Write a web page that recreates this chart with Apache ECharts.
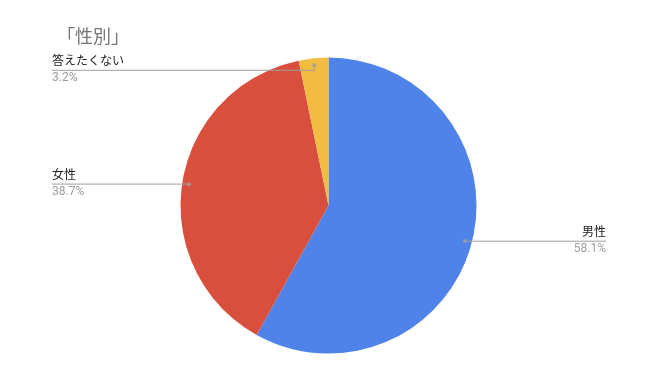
<!DOCTYPE html>
<html>
<head>
<meta charset="utf-8">
<script src="https://cdn.jsdelivr.net/npm/echarts@6/dist/echarts.min.js"></script>
<style>
  html, body { margin: 0; padding: 0; background: #ffffff; }
  #chart { width: 650px; height: 387px; }
</style>
</head>
<body>
<div id="chart"></div>
<script>
const titleText = '「性別」';
const categories = ['男性', '女性', '答えたくない'];
const counts = [18, 12, 1];
const colors = ['#4f83ea', '#d94f3d', '#f2bc42'];
const labelEdge = [44, 52, 52];
const lineLen = [1, 1, -5];

const FONT = 'Roboto, "Noto Sans CJK JP", sans-serif';
const CENTER = [328.5, 205.6];
const R = 148;
const DOT_R = 141;
const LABEL_W = 80;

const total = counts.reduce((a, b) => a + b, 0);
const dotData = [];
let acc = 0;
for (let i = 0; i < counts.length; i++) {
  dotData.push([DOT_R, acc + counts[i] / 2]);
  acc += counts[i];
}

const chart = echarts.init(document.getElementById('chart'), null, { renderer: 'canvas' });
chart.setOption({
  backgroundColor: '#ffffff',
  animation: false,
  title: {
    text: titleText,
    left: 52,
    top: 22,
    textStyle: { fontFamily: '"Noto Sans CJK JP", sans-serif', fontSize: 18, fontWeight: 'normal', color: '#757575' }
  },
  polar: { center: CENTER, radius: R },
  angleAxis: { type: 'value', min: 0, max: total, startAngle: 90, clockwise: true, show: false },
  radiusAxis: { type: 'value', min: 0, max: R, show: false },
  series: [
    {
      type: 'pie',
      center: CENTER,
      radius: R,
      startAngle: 90,
      clockwise: true,
      silent: true,
      label: { show: false },
      labelLine: { show: false },
      data: categories.map((c, i) => ({ name: c, value: counts[i], itemStyle: { color: colors[i] } }))
    },
    {
      type: 'pie',
      center: CENTER,
      radius: DOT_R,
      startAngle: 90,
      clockwise: true,
      silent: true,
      z: 5,
      percentPrecision: 1,
      itemStyle: { color: 'rgba(0,0,0,0)' },
      label: {
        show: true,
        alignTo: 'edge',
        distanceToLabelLine: -LABEL_W,
        formatter: '{n|{b}}\n{p|{d}%}',
        rich: {
          n: { fontFamily: FONT, fontSize: 12, color: '#212121', lineHeight: 16, width: LABEL_W },
          p: { fontFamily: FONT, fontSize: 12, color: '#9e9e9e', lineHeight: 16, width: LABEL_W }
        }
      },
      labelLine: {
        show: true,
        length: 1,
        minTurnAngle: 0,
        maxSurfaceAngle: 180,
        lineStyle: { color: '#9e9e9e', width: 1 }
      },
      data: categories.map((c, i) => ({
        name: c,
        value: counts[i],
        label: { edgeDistance: labelEdge[i] },
        labelLine: { length: lineLen[i] }
      }))
    },
    {
      type: 'scatter',
      coordinateSystem: 'polar',
      symbol: 'circle',
      symbolSize: 4,
      silent: true,
      z: 6,
      itemStyle: { color: '#a0a0a0' },
      data: dotData
    }
  ]
});
</script>
</body>
</html>
